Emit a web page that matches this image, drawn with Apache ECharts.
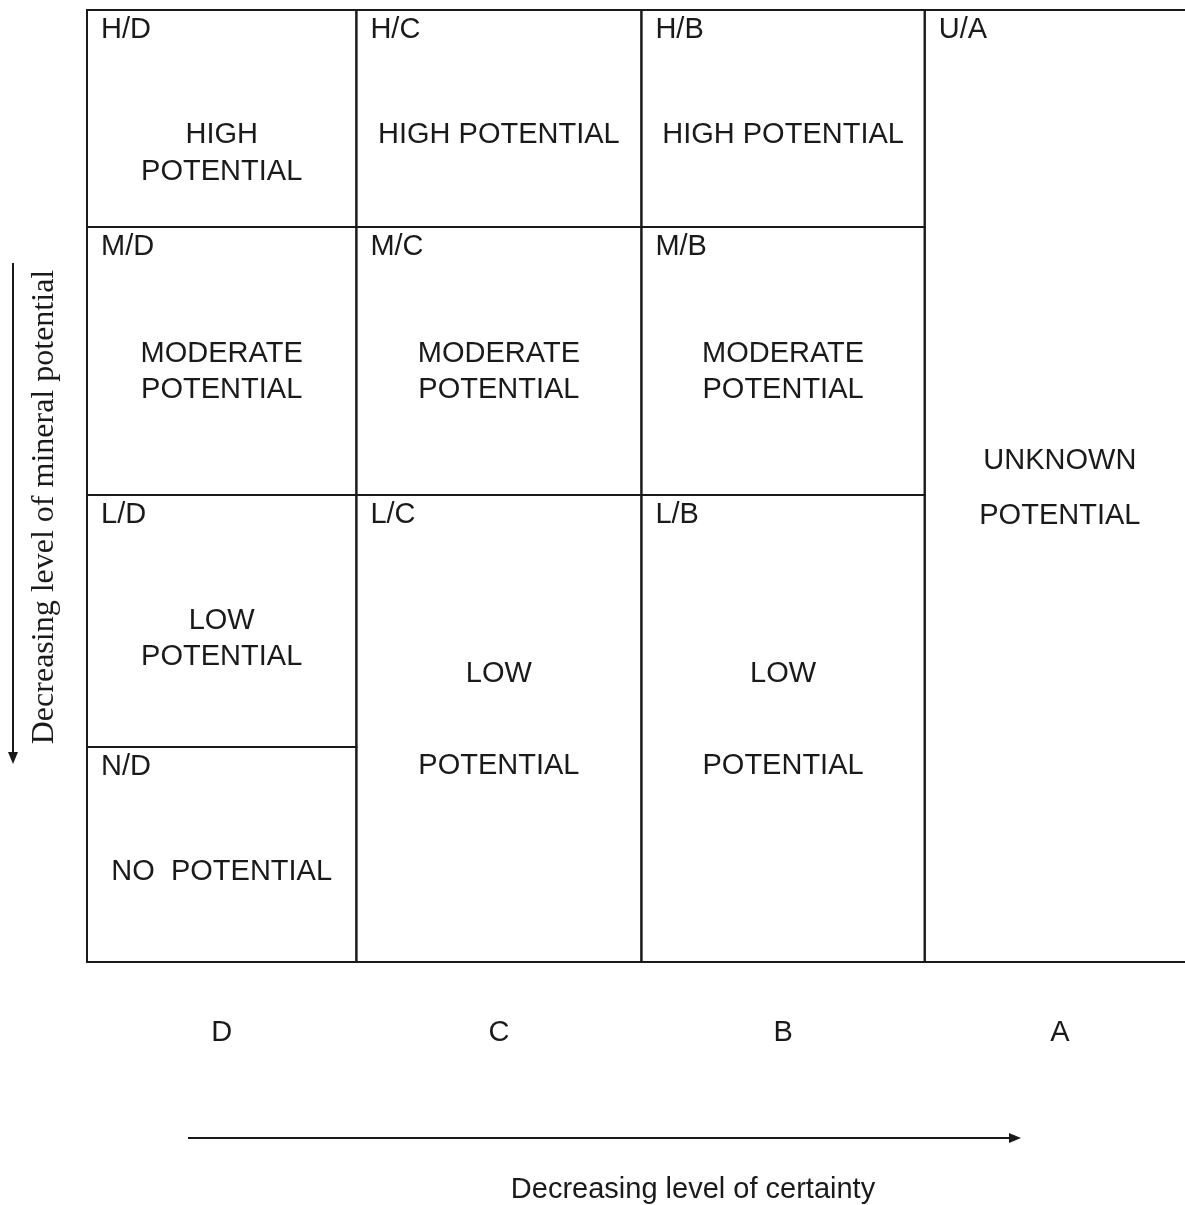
<!DOCTYPE html>
<html>
<head>
<meta charset="utf-8">
<script src="https://cdn.jsdelivr.net/npm/echarts@6/dist/echarts.min.js"></script>
<style>
  html, body { margin: 0; padding: 0; background: #fff; }
  #chart { width: 1185px; height: 1205px; }
</style>
</head>
<body>
<div id="chart"></div>
<script>
// Certainty classes (columns, decreasing certainty left to right)
const columns = ['D', 'C', 'B', 'A'];
// Column edges in certainty units
const colEdges = [0, 0.947, 1.949, 2.945, 3.895];
// Cells of the classification matrix
const cellCodes = ['H/D', 'M/D', 'L/D', 'N/D', 'H/C', 'M/C', 'L/C', 'H/B', 'M/B', 'L/B', 'U/A'];
const cellCol   = [0, 0, 0, 0, 1, 1, 1, 2, 2, 2, 3];
// Potential-level extents (downward = decreasing potential)
const cellTop    = [0, 2.17, 4.85, 7.37, 0, 2.17, 4.85, 0, 2.17, 4.85, 0];
const cellBottom = [2.17, 4.85, 7.37, 9.52, 2.17, 4.85, 9.52, 2.17, 4.85, 9.52, 9.52];
const cellText = [
  ['HIGH', 'POTENTIAL'],
  ['MODERATE', 'POTENTIAL'],
  ['LOW', 'POTENTIAL'],
  ['NO  POTENTIAL'],
  ['HIGH POTENTIAL'],
  ['MODERATE', 'POTENTIAL'],
  ['LOW', 'POTENTIAL'],
  ['HIGH POTENTIAL'],
  ['MODERATE', 'POTENTIAL'],
  ['LOW', 'POTENTIAL'],
  ['UNKNOWN', 'POTENTIAL']
];
const xTitle = 'Decreasing level of certainty';
const yTitle = 'Decreasing level of mineral potential';

// Layout (text line positions in the same units as the axes)
const textLineY = [
  [1.25, 1.62], [3.44, 3.80], [6.11, 6.47], [8.62],
  [1.25], [3.44, 3.80], [6.64, 7.56],
  [1.25], [3.44, 3.80], [6.64, 7.56],
  [4.51, 5.06]
];
const letterY = 10.23;

const INK = '#1a1a1a';
const SANS = '"Liberation Sans", Arial, sans-serif';
const FONT = '29px ' + SANS;

const chart = echarts.init(document.getElementById('chart'), null, { renderer: 'canvas' });

const cellData = cellCodes.map((c, i) => [colEdges[cellCol[i]], cellTop[i], colEdges[cellCol[i] + 1], cellBottom[i]]);
const letterData = columns.map((c, i) => [(colEdges[i] + colEdges[i + 1]) / 2, letterY]);

const option = {
  animation: false,
  backgroundColor: '#ffffff',
  grid: { left: 87, top: 10, width: 1098, height: 952 },
  xAxis: { type: 'value', min: 0, max: 3.86, show: false },
  yAxis: { type: 'value', min: 0, max: 9.52, inverse: true, show: false },
  series: [
    {
      type: 'custom',
      clip: false,
      data: cellData,
      encode: { x: [0, 2], y: [1, 3] },
      renderItem: function (params, api) {
        const i = params.dataIndex;
        const p0 = api.coord([api.value(0), api.value(1)]);
        const p1 = api.coord([api.value(2), api.value(3)]);
        const children = [{
          type: 'rect',
          shape: { x: p0[0], y: p0[1], width: p1[0] - p0[0], height: p1[1] - p0[1] },
          style: { fill: 'none', stroke: INK, lineWidth: 2 }
        }, {
          type: 'text',
          x: p0[0] + 14, y: p0[1] + 20,
          style: { text: cellCodes[i], font: FONT, fill: INK, align: 'left', verticalAlign: 'middle' }
        }];
        const cx = (p0[0] + p1[0]) / 2;
        cellText[i].forEach((t, j) => {
          const y = api.coord([0, textLineY[i][j]])[1];
          children.push({
            type: 'text', x: cx, y: y,
            style: { text: t, font: FONT, fill: INK, align: 'center', verticalAlign: 'middle' }
          });
        });
        return { type: 'group', children: children };
      }
    },
    {
      type: 'custom',
      clip: false,
      data: letterData,
      encode: { x: 0, y: 1 },
      renderItem: function (params, api) {
        const p = api.coord([api.value(0), api.value(1)]);
        return {
          type: 'text', x: p[0], y: p[1],
          style: { text: columns[params.dataIndex], font: FONT, fill: INK, align: 'center', verticalAlign: 'middle' }
        };
      }
    }
  ],
  graphic: [
    // horizontal arrow
    { type: 'line', shape: { x1: 188, y1: 1138, x2: 1012, y2: 1138 }, style: { stroke: INK, lineWidth: 2 } },
    { type: 'polygon', shape: { points: [[1021, 1138], [1009, 1133], [1009, 1143]] }, style: { fill: INK } },
    // vertical arrow
    { type: 'line', shape: { x1: 13, y1: 263, x2: 13, y2: 755 }, style: { stroke: INK, lineWidth: 2 } },
    { type: 'polygon', shape: { points: [[13, 764], [8, 752], [18, 752]] }, style: { fill: INK } },
    // axis titles
    { type: 'text', x: 693, y: 1190, style: { text: xTitle, font: FONT, fill: INK, align: 'center', verticalAlign: 'middle' } },
    { type: 'text', x: 45, y: 507, rotation: Math.PI / 2,
      style: { text: yTitle, font: '32px "Liberation Serif", "Times New Roman", serif', fill: INK, align: 'center', verticalAlign: 'middle' } }
  ]
};
chart.setOption(option);
</script>
</body>
</html>
